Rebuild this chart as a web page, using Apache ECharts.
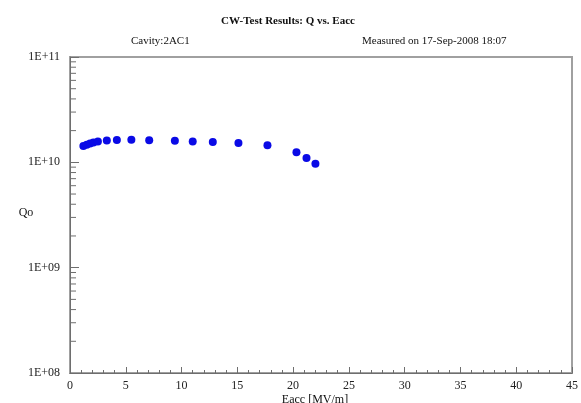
<!DOCTYPE html>
<html>
<head>
<meta charset="utf-8">
<title>CW-Test Results: Q vs. Eacc</title>
<script src="https://cdn.jsdelivr.net/npm/echarts@6/dist/echarts.min.js"></script>
<style>
  html, body { margin: 0; padding: 0; background: #fff; }
  #chart { width: 581px; height: 403px; }
</style>
</head>
<body>
<div id="chart"></div>
<script>
// measured points (Eacc in MV/m, Qo)
const eacc = [1.2, 1.5, 1.8, 2.1, 2.5, 3.3, 4.2, 5.5, 7.1, 9.4, 11.0, 12.8, 15.1, 17.7, 20.3, 21.2, 22.0]
const qo = [1.43e10, 1.47e10, 1.51e10, 1.54e10, 1.58e10, 1.61e10, 1.63e10, 1.64e10, 1.62e10,
  1.60e10, 1.58e10, 1.56e10, 1.53e10, 1.45e10, 1.25e10, 1.10e10, 9.7e9]

// y minor ticks (2..9 per decade)
const decades = [1e8, 1e9, 1e10]
const minorTicks = []
decades.forEach(d => {
  for (let k = 2; k <= 9; k++) minorTicks.push([0, d * k])
})

const font = 'Liberation Serif'
const axisColor = '#6e6e6e'

const chart = echarts.init(document.getElementById('chart'), null, { renderer: 'canvas' })

chart.setOption({
  animation: false,
  backgroundColor: '#fff',
  title: [
    {
      text: 'CW-Test Results: Q vs. Eacc',
      left: 283, top: 11, textAlign: 'center',
      textStyle: { fontFamily: font, fontSize: 11, fontWeight: 'bold', color: '#111' }
    },
    {
      text: 'Cavity:2AC1',
      left: 126, top: 31,
      textStyle: { fontFamily: font, fontSize: 11, fontWeight: 'normal', color: '#111' }
    },
    {
      text: 'Measured on 17-Sep-2008 18:07',
      left: 357, top: 31,
      textStyle: { fontFamily: font, fontSize: 11, fontWeight: 'normal', color: '#111' }
    },
    {
      text: 'Qo',
      left: 21, top: 202, textAlign: 'center',
      textStyle: { fontFamily: font, fontSize: 12, fontWeight: 'normal', color: '#111' }
    },
    {
      text: 'Eacc [MV/m]',
      left: 310, top: 389, textAlign: 'center',
      textStyle: { fontFamily: font, fontSize: 12, fontWeight: 'normal', color: '#111' }
    }
  ],
  grid: {
    left: 70, top: 57, right: 6, bottom: 30,
    show: true,
    borderColor: '#a0a0a0',
    borderWidth: 2
  },
  xAxis: {
    type: 'value',
    min: 0, max: 45, interval: 5,
    axisLine: { lineStyle: { color: axisColor, width: 1 } },
    axisTick: { inside: true, length: 6, lineStyle: { color: axisColor } },
    minorTick: { show: true, splitNumber: 5, length: 3, lineStyle: { color: axisColor } },
    axisLabel: { fontFamily: font, fontSize: 12, color: '#222', margin: 7 },
    splitLine: { show: false }
  },
  yAxis: {
    type: 'log',
    logBase: 10,
    min: 1e8, max: 1e11,
    splitNumber: 3,
    axisLine: { show: true, lineStyle: { color: axisColor, width: 1 } },
    axisTick: { show: true, inside: true, length: 9, lineStyle: { color: axisColor } },
    axisLabel: {
      fontFamily: font, fontSize: 12, color: '#222', margin: 10,
      formatter: v => '1E+' + String(Math.round(Math.log10(v))).padStart(2, '0')
    },
    splitLine: { show: false }
  },
  series: [
    {
      type: 'custom',
      silent: true,
      clip: false,
      data: minorTicks,
      renderItem: (params, api) => {
        const p = api.coord([0, api.value(1)])
        return {
          type: 'line',
          shape: { x1: p[0], y1: p[1], x2: p[0] + 6, y2: p[1] },
          style: { stroke: axisColor, lineWidth: 1 }
        }
      }
    },
    {
      type: 'scatter',
      symbol: 'circle',
      symbolSize: 8,
      itemStyle: { color: '#0a0ae6', opacity: 1 },
      data: eacc.map((x, i) => [x, qo[i]])
    }
  ]
})
</script>
</body>
</html>
